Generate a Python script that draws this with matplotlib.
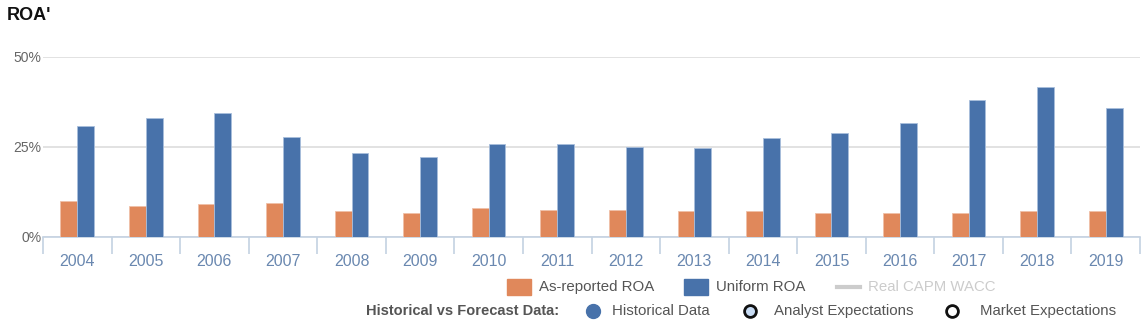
import numpy as np
import matplotlib.pyplot as plt
from matplotlib.patches import Rectangle

plt.rcParams['font.family'] = ['Liberation Sans', 'DejaVu Sans']

# Data
years = ['2004', '2005', '2006', '2007', '2008', '2009', '2010', '2011',
         '2012', '2013', '2014', '2015', '2016', '2017', '2018', '2019']
as_reported_roa = [10.0, 8.6, 9.2, 9.4, 7.2, 6.7, 8.0, 7.5,
                   7.5, 7.2, 7.2, 6.7, 6.7, 6.7, 7.2, 7.2]
uniform_roa = [30.8, 33.0, 34.4, 27.8, 23.3, 22.2, 25.8, 25.8,
               25.0, 24.7, 27.5, 28.9, 31.7, 38.0, 41.7, 35.8]
y_ticks = [0, 25, 50]

orange = '#e0885b'
blue = '#4872aa'
W, H = 1143, 326

fig = plt.figure(figsize=(W / 100, H / 100), dpi=100)
ax = fig.add_axes([43 / W, (H - 237) / H, (1140 - 43) / W, (237 - 57) / H])

x = np.arange(len(years))
bw = 0.245
ax.bar(x - bw / 2, as_reported_roa, bw, color=orange, edgecolor='#f0c0a8', linewidth=0.6, zorder=3)
ax.bar(x + bw / 2, uniform_roa, bw, color=blue, edgecolor='#a8bedc', linewidth=0.6, zorder=3)

ax.set_xlim(-0.5, len(years) - 0.5)
ax.set_ylim(0, 50)
ax.set_yticks(y_ticks)
ax.set_yticklabels([f'{v}%' for v in y_ticks], color='#666666', fontsize=10)
ax.tick_params(axis='y', length=0, pad=1)
ax.grid(axis='y', color='#dddddd', linewidth=1.2, zorder=0)

# category boundaries as ticks, labels in the middle
ax.set_xticks(np.arange(len(years) + 1) - 0.5)
ax.set_xticklabels([])
ax.set_xticks(x, minor=True)
ax.set_xticklabels(years, minor=True, color='#6a88b0', fontsize=11.5)
ax.tick_params(axis='x', which='major', length=12, color='#c4d2e2', width=1.2)
ax.tick_params(axis='x', which='minor', length=0, pad=12)

for s in ['top', 'right', 'left']:
    ax.spines[s].set_visible(False)
ax.spines['bottom'].set_color('#c4d2e2')
ax.spines['bottom'].set_linewidth(1.2)

fig.text(7 / W, 1 - 16 / H, "ROA'", fontsize=13, fontweight='bold', color='#111111', va='center')

# legend area in pixel coordinates
lg = fig.add_axes([0, 0, 1, 1], zorder=5)
lg.set_xlim(0, W)
lg.set_ylim(H, 0)
lg.axis('off')

txt = '#555555'
ry = 287
lg.add_patch(Rectangle((507, ry - 8), 24, 16, color=orange))
lg.text(539, ry, 'As-reported ROA', fontsize=10.8, color=txt, va='center')
lg.add_patch(Rectangle((684, ry - 8), 24, 16, color=blue))
lg.text(716, ry, 'Uniform ROA', fontsize=10.8, color=txt, va='center')
lg.plot([837, 860], [ry, ry], color='#cccccc', linewidth=3)
lg.text(868, ry, 'Real CAPM WACC', fontsize=10.8, color='#cccccc', va='center')

ry2 = 311
lg.text(366, ry2, 'Historical vs Forecast Data:', fontsize=10.5, fontweight='bold',
        color=txt, va='center')
lg.plot([593], [ry2], 'o', markersize=10, color=blue)
lg.text(612, ry2, 'Historical Data', fontsize=10.8, color=txt, va='center')
lg.plot([750], [ry2], 'o', markersize=8.5, markerfacecolor='#c8dcf4',
        markeredgecolor='#111111', markeredgewidth=2)
lg.text(774, ry2, 'Analyst Expectations', fontsize=10.8, color=txt, va='center')
lg.plot([952], [ry2], 'o', markersize=8.5, markerfacecolor='white',
        markeredgecolor='#111111', markeredgewidth=2)
lg.text(980, ry2, 'Market Expectations', fontsize=10.8, color=txt, va='center')

fig.savefig('out.png', dpi=100)
